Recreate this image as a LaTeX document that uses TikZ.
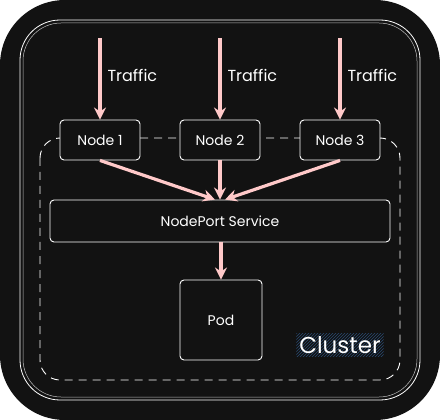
\documentclass[tikz,border=0pt]{standalone}
\usepackage{fontspec}
\setmainfont{Poppins}
\usetikzlibrary{arrows.meta,patterns}
\definecolor{bgdark}{HTML}{121212}
\definecolor{trafficpink}{HTML}{FFC9C9}
\definecolor{hatchblue}{HTML}{2A4A70}
\tikzset{
  box/.style={draw=white, fill=bgdark, rounded corners=4pt, line width=0.9pt, inner sep=0pt, text=white, font=\fontsize{14}{16}\selectfont},
  flow/.style={draw=trafficpink, line width=3.2pt, -{Stealth[length=12pt,width=12pt]}},
  lbl/.style={text=white, font=\fontsize{16}{18}\selectfont},
}
\begin{document}
\begin{tikzpicture}[x=1pt,y=-1pt]
  % Canvas and dark panel
  \fill[white] (0,0) rectangle (440,420);
  \fill[bgdark, rounded corners=65pt] (0,0) rectangle (440,420);

  % Double outline
  \draw[white, line width=0.8pt, rounded corners=40pt] (20,20) rectangle (420,400);
  \draw[white!75!black, line width=0.5pt, rounded corners=38pt] (23,23) rectangle (417,397);

  % Cluster boundary
  \draw[white, line width=0.9pt, dash pattern=on 8pt off 6pt, rounded corners=20pt] (40,138) rectangle (400,380);

  % Nodes
  \node[box, minimum width=80pt, minimum height=40pt] (n1) at (100,140) {Node 1};
  \node[box, minimum width=80pt, minimum height=40pt] (n2) at (220,140) {Node 2};
  \node[box, minimum width=80pt, minimum height=40pt] (n3) at (340,140) {Node 3};

  % Service and pod
  \node[box, minimum width=340pt, minimum height=42pt] (svc) at (220,221) {NodePort Service};
  \node[box, minimum width=82pt, minimum height=80pt] (pod) at (221,320) {Pod};

  % Incoming traffic
  \coordinate (t1) at (100,38);
  \coordinate (t2) at (220,38);
  \coordinate (t3) at (340,38);
  \draw[flow] (t1) -- (n1.north);
  \draw[flow] (t2) -- (n2.north);
  \draw[flow] (t3) -- (n3.north);
  \node[lbl, anchor=west] (l1) at (104,75) {Traffic};
  \node[lbl, anchor=west] (l2) at (224,75) {Traffic};
  \node[lbl, anchor=west] (l3) at (344,75) {Traffic};

  % Nodes to service, service to pod
  \draw[flow] (n1.south) -- ([xshift=-5pt]svc.north);
  \draw[flow] (n2.south) -- (svc.north);
  \draw[flow] (n3.south) -- ([xshift=5pt]svc.north);
  \draw[flow] (svc.south -| pod.north) -- (pod.north);

  % Cluster label
  \node[pattern=north east lines, pattern color=hatchblue, text=white, inner sep=3pt,
        font=\fontsize{23}{26}\selectfont] (cl) at (340,345) {Cluster};
\end{tikzpicture}
\end{document}
